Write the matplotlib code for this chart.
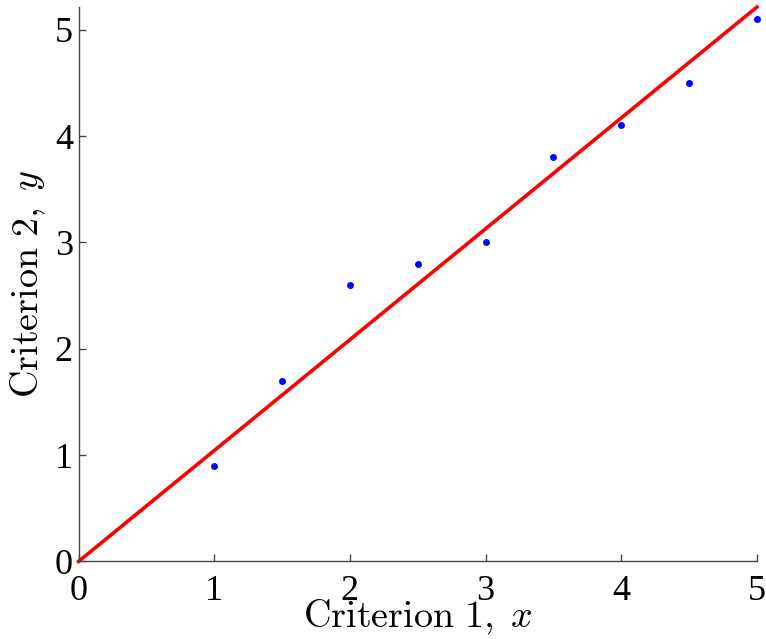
import matplotlib.pyplot as plt
import numpy as np

plt.rcParams['font.family'] = 'Liberation Serif'

# paired criterion scores
x = [1.0, 1.5, 2.0, 2.5, 3.0, 3.5, 4.0, 4.5, 5.0]
y = [0.9, 1.7, 2.6, 2.8, 3.0, 3.8, 4.1, 4.5, 5.1]

# least squares line through origin
xa = np.array(x)
ya = np.array(y)
slope = np.sum(xa * ya) / np.sum(xa * xa)
xl = np.array([0.0, 5.0])
yl = slope * xl

fig = plt.figure(figsize=(7.66, 6.39), dpi=100)
ax = fig.add_axes([0.1025, 0.1213, 0.8857, 0.8677])

ax.plot(xl, yl, color='red', lw=2.6, clip_on=False, zorder=2)
ax.plot(x, y, 'o', color='blue', ms=5, mec='none', clip_on=False, zorder=3)

ax.set_xlim(0, 5)
ax.set_ylim(0, yl[-1])
ax.set_xticks([0, 1, 2, 3, 4, 5])
ax.set_yticks([0, 1, 2, 3, 4, 5])

for s in ['top', 'right']:
    ax.spines[s].set_visible(False)
for s in ['left', 'bottom']:
    ax.spines[s].set_color('#444444')
    ax.spines[s].set_linewidth(1.0)

ax.tick_params(direction='in', length=5, width=1, color='#444444',
               labelsize=26, pad=4)
ax.tick_params(axis='x', pad=10)

# axis labels in Computer Modern
ax.set_xlabel(r'$\mathrm{Criterion\ 1,}\;x$', fontsize=27.5,
              math_fontfamily='cm', labelpad=-8)
ax.set_ylabel(r'$\mathrm{Criterion\ 2,}\;y$', fontsize=27.5,
              math_fontfamily='cm', labelpad=6)

fig.savefig('out.png', dpi=100)
